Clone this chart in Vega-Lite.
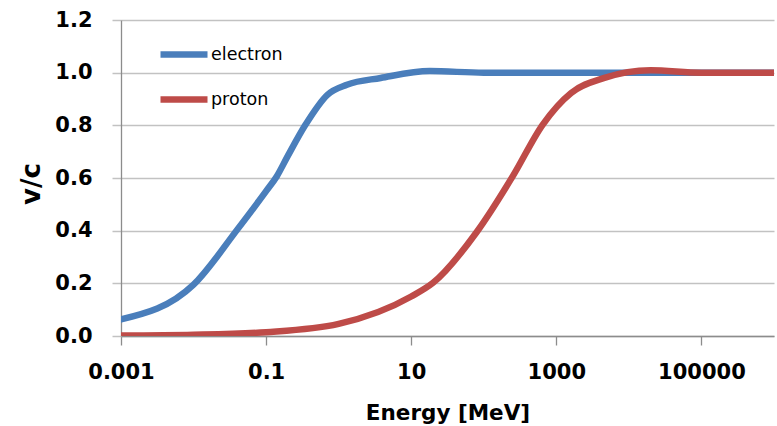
{
  "$schema": "https://vega.github.io/schema/vega-lite/v6.json",
  "width": 653,
  "height": 316,
  "autosize": {"type": "none"},
  "padding": {"left": 121, "top": 20, "right": 3, "bottom": 90},
  "background": "white",
  "config": {"view": {"stroke": null}, "font": "DejaVu Sans"},
  "data": {
    "values": [
      {"particle": "electron", "energy": 0.001, "vc": 0.063},
      {"particle": "electron", "energy": 0.01, "vc": 0.195},
      {"particle": "electron", "energy": 0.04, "vc": 0.404},
      {"particle": "electron", "energy": 0.1, "vc": 0.55},
      {"particle": "electron", "energy": 0.14, "vc": 0.606},
      {"particle": "electron", "energy": 0.2, "vc": 0.685},
      {"particle": "electron", "energy": 0.35, "vc": 0.803},
      {"particle": "electron", "energy": 0.7, "vc": 0.916},
      {"particle": "electron", "energy": 1.3, "vc": 0.954},
      {"particle": "electron", "energy": 3.8, "vc": 0.98},
      {"particle": "electron", "energy": 18, "vc": 1.006},
      {"particle": "electron", "energy": 100, "vc": 1.0},
      {"particle": "electron", "energy": 1000, "vc": 1.0},
      {"particle": "electron", "energy": 10000, "vc": 1.0},
      {"particle": "electron", "energy": 100000, "vc": 1.0},
      {"particle": "electron", "energy": 1000000, "vc": 1.0},
      {"particle": "proton", "energy": 0.001, "vc": 0.0015},
      {"particle": "proton", "energy": 0.01, "vc": 0.0046},
      {"particle": "proton", "energy": 0.1, "vc": 0.0146},
      {"particle": "proton", "energy": 1, "vc": 0.046},
      {"particle": "proton", "energy": 10, "vc": 0.15},
      {"particle": "proton", "energy": 20, "vc": 0.202},
      {"particle": "proton", "energy": 80, "vc": 0.395},
      {"particle": "proton", "energy": 250, "vc": 0.606},
      {"particle": "proton", "energy": 650, "vc": 0.803},
      {"particle": "proton", "energy": 1600, "vc": 0.923},
      {"particle": "proton", "energy": 4600, "vc": 0.98},
      {"particle": "proton", "energy": 20000, "vc": 1.009},
      {"particle": "proton", "energy": 100000, "vc": 1.0},
      {"particle": "proton", "energy": 1000000, "vc": 1.0}
    ]
  },
  "mark": {"type": "line", "interpolate": "monotone", "strokeWidth": 6.5, "strokeCap": "round", "clip": true},
  "encoding": {
    "x": {
      "field": "energy",
      "type": "quantitative",
      "scale": {"type": "log", "domain": [0.001, 1000000], "nice": false},
      "axis": {
        "values": [0.001, 0.1, 10, 1000, 100000],
        "format": "~f",
        "grid": false,
        "domainColor": "#8c8c8c",
        "domainWidth": 1.3,
        "tickColor": "#8c8c8c",
        "tickWidth": 1.3,
        "tickSize": 9,
        "labelFont": "DejaVu Sans",
        "labelFontWeight": "bold",
        "labelFontSize": 21,
        "labelColor": "#000000",
        "labelPadding": 16,
        "labelFlush": false,
        "labelOverlap": false,
        "title": "Energy [MeV]",
        "titleFont": "DejaVu Sans",
        "titleFontSize": 21.5,
        "titleFontWeight": "bold",
        "titleColor": "#000000",
        "titleBaseline": "alphabetic",
        "titleY": 83.5
      }
    },
    "y": {
      "field": "vc",
      "type": "quantitative",
      "scale": {"domain": [0, 1.2], "nice": false},
      "axis": {
        "values": [0, 0.2, 0.4, 0.6, 0.8, 1.0, 1.2],
        "format": ".1f",
        "grid": true,
        "gridColor": "#c2c2c2",
        "gridWidth": 1.5,
        "domainColor": "#8c8c8c",
        "domainWidth": 1.3,
        "tickColor": "#c2c2c2",
        "tickWidth": 1.5,
        "tickSize": 9,
        "labelFont": "DejaVu Sans",
        "labelFontWeight": "bold",
        "labelFontSize": 21,
        "labelColor": "#000000",
        "labelPadding": 20,
        "title": "v/c",
        "titleFont": "DejaVu Sans",
        "titleFontSize": 26,
        "titleFontWeight": "bold",
        "titleColor": "#000000",
        "titleAngle": -90,
        "titleAlign": "center",
        "titleBaseline": "alphabetic",
        "titleX": -82,
        "titleY": 163.5
      }
    },
    "color": {
      "field": "particle",
      "type": "nominal",
      "scale": {"domain": ["electron", "proton"], "range": ["#4a7ebb", "#be4b48"]},
      "legend": {
        "orient": "none",
        "legendX": 36,
        "legendY": 7.5,
        "title": null,
        "symbolType": "stroke",
        "symbolSize": 2209,
        "symbolStrokeWidth": 6.5,
        "rowPadding": 5,
        "labelFont": "DejaVu Sans",
        "labelFontSize": 17.5,
        "labelOffset": 0,
        "labelColor": "#000000",
        "padding": 0
      }
    }
  }
}
